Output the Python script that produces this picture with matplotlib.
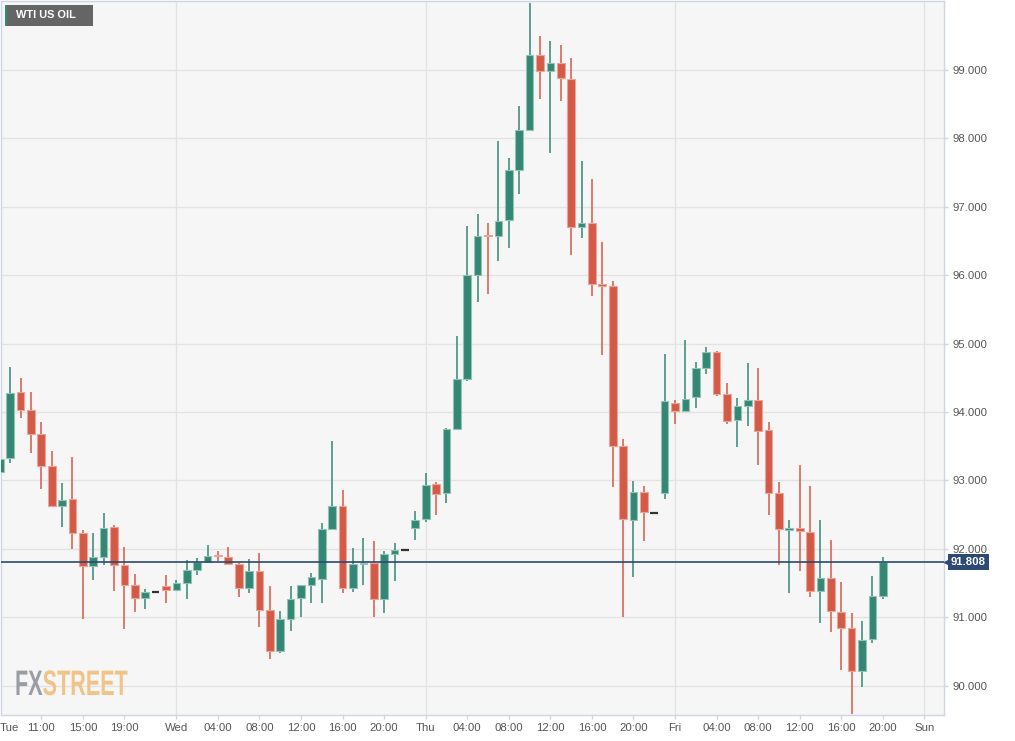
import numpy as np
import matplotlib.pyplot as plt
import matplotlib.transforms as mtransforms
import matplotlib.patheffects as pe
from matplotlib.patches import Rectangle

# hourly candles, hour counted from Tue 00:00
hours = list(range(7, 93))
opens = [93.13, 93.33, 94.29, 94.03, 93.68, 93.21, 92.63, 92.73, 92.23, 91.75,
         91.88, 92.32, 91.76, 91.47, 91.28, 91.37, 91.46, 91.40, 91.50, 91.69,
         91.81, 91.91, 91.88, 91.78, 91.43, 91.68, 91.10, 90.51, 90.97, 91.28,
         91.47, 91.56, 92.29, 92.63, 91.43, 91.78, 91.79, 91.27, 91.92, 91.98,
         92.31, 92.44, 92.95, 92.82, 93.75, 94.48, 96.00, 96.59, 96.57, 96.81,
         97.54, 98.12, 99.22, 98.98, 99.10, 98.87, 96.70, 96.77, 95.87, 95.85,
         93.51, 92.42, 92.83, 92.53, 92.82, 94.13, 94.01, 94.22, 94.64, 94.88,
         94.27, 93.88, 94.09, 94.18, 93.74, 92.81, 92.27, 92.31, 92.25, 91.38,
         91.58, 91.08, 90.84, 90.21, 90.68, 91.31]
highs = [93.40, 94.66, 94.50, 94.29, 93.85, 93.43, 92.96, 93.34, 92.28, 92.23,
         92.52, 92.35, 92.03, 91.63, 91.41, 91.37, 91.62, 91.54, 91.84, 91.87,
         92.06, 91.97, 92.03, 91.79, 91.85, 91.94, 91.46, 91.09, 91.46, 91.47,
         91.65, 92.38, 93.58, 92.86, 92.01, 92.16, 92.11, 91.97, 92.08, 91.98,
         92.55, 93.11, 92.98, 93.77, 95.11, 96.72, 96.90, 96.76, 97.96, 97.71,
         98.48, 99.98, 99.50, 99.43, 99.37, 99.17, 97.67, 97.41, 96.49, 95.92,
         93.60, 92.99, 92.92, 92.53, 94.85, 94.17, 95.06, 94.73, 94.95, 94.90,
         94.42, 94.20, 94.72, 94.64, 93.86, 92.98, 92.42, 93.22, 92.92, 92.42,
         92.13, 91.52, 91.06, 90.95, 91.61, 91.88]
lows = [92.83, 93.25, 93.91, 93.40, 92.87, 92.62, 92.32, 92.00, 90.97, 91.54,
        91.76, 91.38, 90.83, 91.08, 91.12, 91.37, 91.21, 91.38, 91.27, 91.62,
        91.80, 91.82, 91.76, 91.30, 91.35, 90.86, 90.39, 90.48, 90.80, 91.00,
        91.21, 91.21, 92.28, 91.35, 91.37, 91.47, 91.00, 91.06, 91.53, 91.98,
        92.13, 92.39, 92.49, 92.67, 93.74, 94.45, 95.61, 95.73, 96.21, 96.40,
        97.19, 98.11, 98.57, 97.78, 98.54, 96.30, 96.54, 95.69, 94.83, 92.90,
        91.00, 91.59, 92.12, 92.53, 92.73, 93.82, 94.00, 94.06, 94.56, 94.24,
        93.82, 93.49, 93.80, 93.22, 92.49, 91.76, 91.35, 91.67, 91.29, 90.91,
        90.79, 90.23, 89.58, 89.98, 90.63, 91.27]
closes = [93.31, 94.28, 94.03, 93.68, 93.21, 92.63, 92.71, 92.23, 91.75, 91.88,
          92.30, 91.76, 91.47, 91.28, 91.37, 91.37, 91.40, 91.50, 91.69, 91.81,
          91.90, 91.89, 91.78, 91.43, 91.68, 91.10, 90.51, 90.97, 91.27, 91.47,
          91.59, 92.29, 92.63, 91.43, 91.78, 91.80, 91.27, 91.92, 91.98, 91.98,
          92.42, 92.93, 92.80, 93.75, 94.48, 96.00, 96.58, 96.57, 96.80, 97.54,
          98.12, 99.22, 98.99, 99.10, 98.88, 96.70, 96.77, 95.87, 95.85, 93.50,
          92.43, 92.83, 92.54, 92.53, 94.16, 94.01, 94.19, 94.64, 94.88, 94.26,
          93.87, 94.09, 94.18, 93.72, 92.81, 92.29, 92.31, 92.26, 91.38, 91.58,
          91.09, 90.85, 90.21, 90.67, 91.31, 91.808]

tick_hours = [11, 15, 19, 24, 28, 32, 36, 40, 44, 48, 52, 56, 60, 64, 68,
              72, 76, 80, 84, 88, 92, 96]
tick_labels = ['11:00', '15:00', '19:00', 'Wed', '04:00', '08:00', '12:00',
               '16:00', '20:00', 'Thu', '04:00', '08:00', '12:00', '16:00',
               '20:00', 'Fri', '04:00', '08:00', '12:00', '16:00', '20:00', 'Sun']
day_lines = [24, 48, 72, 96]
price_ticks = [90, 91, 92, 93, 94, 95, 96, 97, 98, 99]
last_price = 91.808

plt.rcParams['font.family'] = ['Liberation Sans', 'DejaVu Sans']

red = '#d45a48'
red_edge = '#e9a599'
green = '#348774'
green_edge = '#93c3b6'
navy = '#2c4a72'
frame = '#cfd4e6'


class Squash(pe.AbstractPathEffect):
    # squeeze glyphs horizontally around x0 (pixels) for the condensed logo look
    def __init__(self, x0, sx):
        super().__init__()
        self.x0 = x0
        self.sx = sx

    def draw_path(self, renderer, gc, tpath, affine, rgbFace=None):
        t = affine + mtransforms.Affine2D().translate(-self.x0, 0).scale(self.sx, 1).translate(self.x0, 0)
        renderer.draw_path(gc, tpath, t, rgbFace)


fig = plt.figure(figsize=(10.15, 7.41), dpi=100)
ax = fig.add_axes([1 / 1015, 26 / 741, 943 / 1015, 714 / 741])
ax.set_facecolor('#f6f6f6')

x = np.array(hours, dtype=float)
o = np.array(opens)
h = np.array(highs)
l = np.array(lows)
c = np.array(closes)
up = c > o
down = c < o
flat = c == o

fill = np.where(up, green, np.where(down, red, '#333333'))
edge = np.where(up, green_edge, red_edge)

ax.vlines(x, l, h, colors=fill, lw=1.1, zorder=2)
body = ~flat
ax.bar(x[body], np.abs(c - o)[body], bottom=np.minimum(o, c)[body], width=0.74,
       color=fill[body], edgecolor=edge[body], linewidth=0.8, zorder=3)
ax.hlines(o[flat], x[flat] - 0.37, x[flat] + 0.37, colors='#333333', lw=1.6, zorder=3)

ax.set_xlim(7.12, 97.89)
ax.set_ylim(89.572, 100.009)

ax.yaxis.grid(True, color='#e3e3e3', lw=1)
for d in day_lines:
    ax.axvline(d, color='#e3e3e3', lw=1, zorder=0)
ax.set_axisbelow(True)

ax.axhline(last_price, color=navy, lw=1.2, zorder=5)

ax.yaxis.tick_right()
ax.set_yticks(price_ticks, [f'{p:.3f}' for p in price_ticks])
ax.set_xticks(tick_hours, tick_labels)
ax.set_xticks([7.95], ['Tue'], minor=True)
ax.tick_params(axis='both', which='major', length=3, width=1, color=frame,
               labelcolor='#555555', labelsize=8.2, pad=3)
ax.tick_params(axis='x', which='minor', length=0, pad=6, labelcolor='#555555',
               labelsize=8.2)
for s in ax.spines.values():
    s.set_color(frame)
    s.set_linewidth(1)

# last price tag
trans = mtransforms.blended_transform_factory(ax.transAxes, ax.transData)
ax.text(1.0075, last_price, '91.808', transform=trans, ha='left', va='center',
        color='white', fontsize=8.2, fontweight='bold', zorder=6,
        bbox=dict(boxstyle='square,pad=0.25', fc=navy, ec='none'))
ax.plot([1.0037], [last_price], marker='<', ms=4, color=navy, transform=trans,
        clip_on=False, zorder=6)

# title box
fig.patches.append(Rectangle((5 / 1015, 715 / 741), 88 / 1015, 21 / 741,
                             transform=fig.transFigure, fc='#656565', ec='none'))
fig.patches.append(Rectangle((5 / 1015, 715 / 741), 2 / 1015, 21 / 741,
                             transform=fig.transFigure, fc='#2e8b74', ec='none'))
fig.text(16 / 1015, 725.5 / 741, 'WTI US OIL', color='white', fontsize=7.9,
         fontweight='bold', va='center', ha='left')

# watermark
squash = [Squash(15, 0.61)]
fx = fig.text(15 / 1015, 46 / 741, 'FX', color='#9b9da4', fontsize=25.5,
              fontweight='bold', va='baseline', path_effects=squash)
ax.annotate('STREET', xy=(1, 0), xycoords=fx, va='bottom', ha='left',
            color='#f0c488', fontsize=25.5, fontweight='bold',
            annotation_clip=False, path_effects=squash)

fig.savefig('out.png', dpi=100, facecolor='white')
